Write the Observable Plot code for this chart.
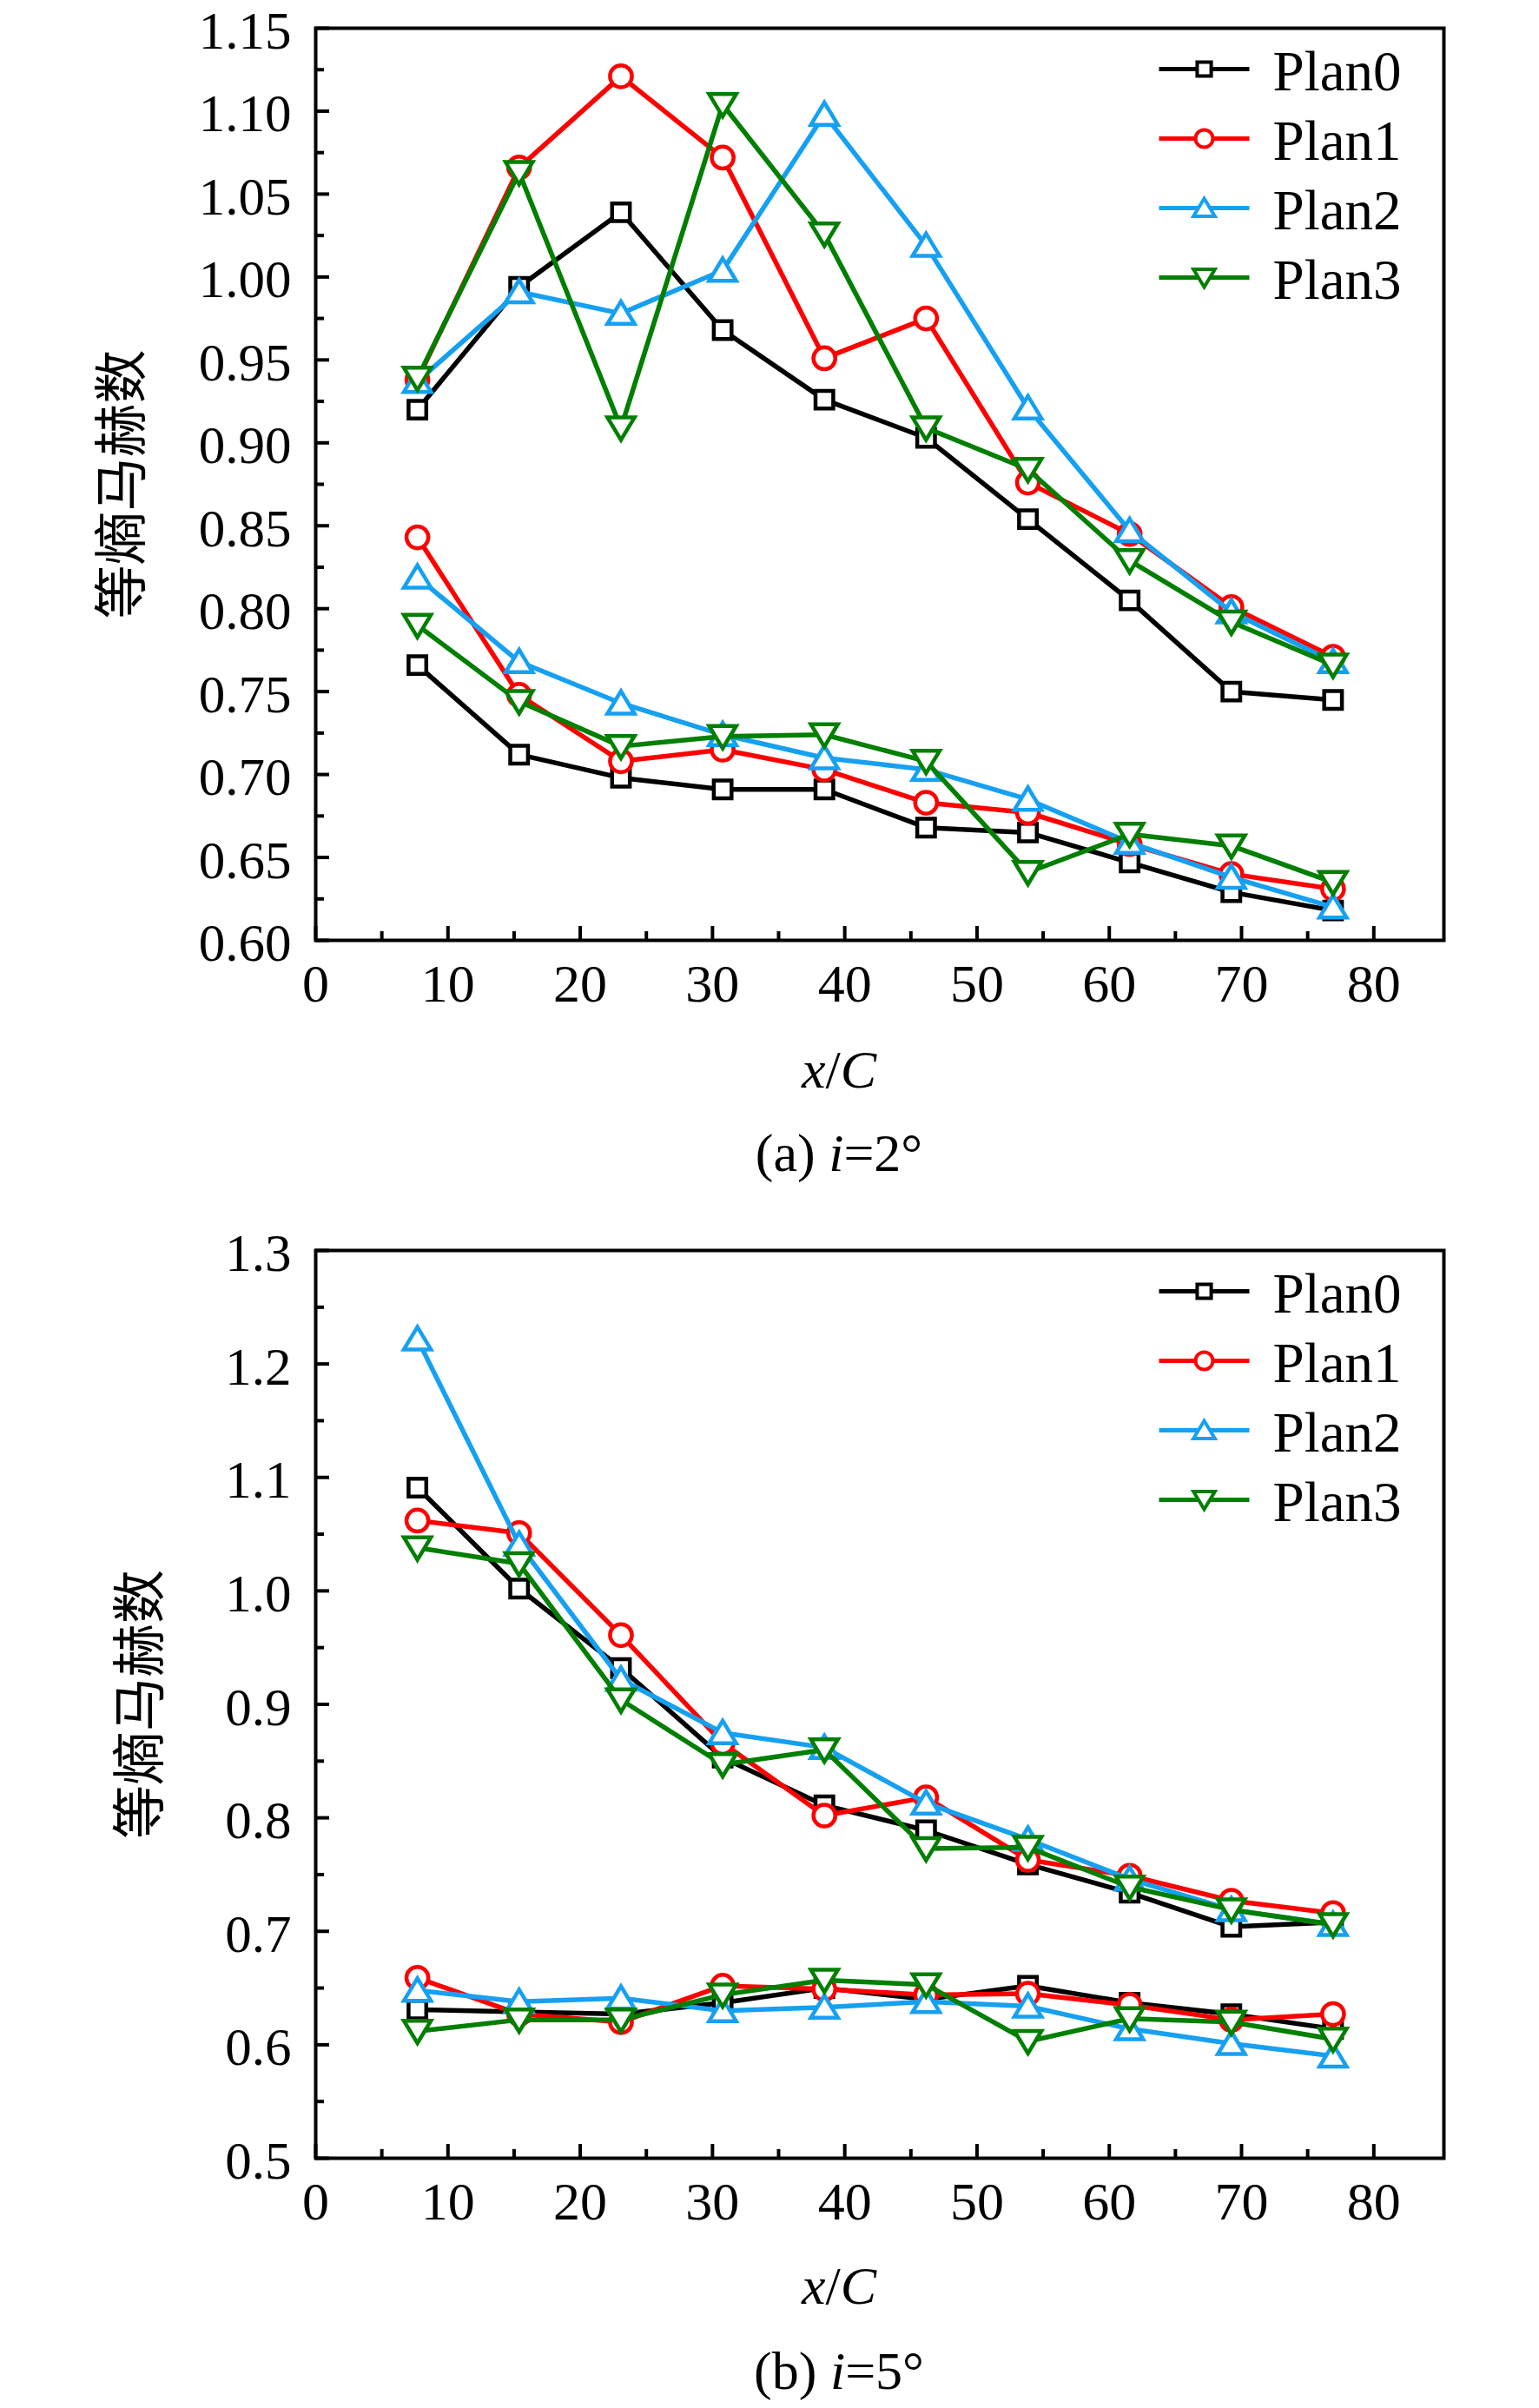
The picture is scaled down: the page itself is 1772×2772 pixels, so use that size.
<!DOCTYPE html>
<html>
<head>
<meta charset="utf-8">
<script src="https://cdn.jsdelivr.net/npm/d3@7"></script>
<script src="https://cdn.jsdelivr.net/npm/@observablehq/plot@0.6"></script>
<style>
  html, body { margin: 0; padding: 0; background: #fff; color: #000; }
  #page { position: relative; width: 1772px; height: 2772px; overflow: hidden; background: #fff; }
  .panel { position: absolute; left: 0; }
  .lab { position: absolute; left: 666px; width: 600px; text-align: center;
         font-family: 'Liberation Serif', 'Times New Roman', serif; font-size: 62px;
         line-height: 62px; height: 62px; color: #000; white-space: nowrap; }
</style>
</head>
<body>
<div id="page"></div>
<script>
// ---------- data ----------
const xPos = [7.69, 15.38, 23.08, 30.77, 38.46, 46.15, 53.85, 61.54, 69.23, 76.92];
const plans = ["Plan0", "Plan1", "Plan2", "Plan3"];
const planColors = ["#000000", "#ff0000", "#16a0f2", "#007f00"];

// (a) i=2°  – upper branch
const a0Up = [0.920, 0.994, 1.039, 0.968, 0.926, 0.903, 0.854, 0.805, 0.750, 0.745];
const a1Up = [0.938, 1.066, 1.121, 1.072, 0.951, 0.975, 0.876, 0.845, 0.801, 0.771];
const a2Up = [0.937, 0.991, 0.978, 1.004, 1.098, 1.019, 0.921, 0.847, 0.798, 0.768];
const a3Up = [0.939, 1.063, 0.909, 1.104, 1.026, 0.909, 0.884, 0.829, 0.792, 0.766];
// (a) i=2°  – lower branch
const a0Lo = [0.766, 0.712, 0.698, 0.691, 0.691, 0.668, 0.665, 0.647, 0.629, 0.618];
const a1Lo = [0.843, 0.748, 0.708, 0.715, 0.703, 0.683, 0.677, 0.658, 0.640, 0.631];
const a2Lo = [0.819, 0.768, 0.743, 0.724, 0.710, 0.703, 0.685, 0.659, 0.638, 0.620];
const a3Lo = [0.790, 0.744, 0.717, 0.723, 0.724, 0.708, 0.641, 0.664, 0.657, 0.635];

// (b) i=5°  – upper branch
const b0Up = [1.091, 1.002, 0.932, 0.853, 0.811, 0.789, 0.759, 0.734, 0.704, 0.708];
const b1Up = [1.062, 1.051, 0.961, 0.866, 0.802, 0.818, 0.763, 0.749, 0.727, 0.716];
const b2Up = [1.222, 1.041, 0.922, 0.875, 0.862, 0.813, 0.781, 0.746, 0.719, 0.706];
const b3Up = [1.038, 1.024, 0.904, 0.847, 0.860, 0.773, 0.774, 0.739, 0.719, 0.706];
// (b) i=5°  – lower branch
const b0Lo = [0.631, 0.629, 0.627, 0.637, 0.650, 0.640, 0.652, 0.637, 0.627, 0.614];
const b1Lo = [0.659, 0.627, 0.620, 0.652, 0.649, 0.644, 0.645, 0.635, 0.622, 0.627];
const b2Lo = [0.648, 0.638, 0.641, 0.630, 0.633, 0.638, 0.634, 0.614, 0.601, 0.590];
const b3Lo = [0.612, 0.622, 0.622, 0.644, 0.657, 0.653, 0.603, 0.623, 0.620, 0.605];

// ticks
const xMajor = [0, 10, 20, 30, 40, 50, 60, 70, 80];
const xMinor = [5, 15, 25, 35, 45, 55, 65, 75];
const yMajorA = [0.60, 0.65, 0.70, 0.75, 0.80, 0.85, 0.90, 0.95, 1.00, 1.05, 1.10, 1.15];
const yMinorA = [0.625, 0.675, 0.725, 0.775, 0.825, 0.875, 0.925, 0.975, 1.025, 1.075, 1.125];
const yMajorB = [0.5, 0.6, 0.7, 0.8, 0.9, 1.0, 1.1, 1.2, 1.3];
const yMinorB = [0.55, 0.65, 0.75, 0.85, 0.95, 1.05, 1.15, 1.25];

const yTitle = "等熵马赫数";
const xTitleHTML = "<i>x</i>/<i>C</i>";
const captionA = "(a) <i>i</i>=2°";
const captionB = "(b) <i>i</i>=5°";

// ---------- symbols ----------
const symSquare = { draw(c, size) { const r = Math.sqrt(size / Math.PI) * 0.85;
  c.moveTo(-r, -r); c.lineTo(r, -r); c.lineTo(r, r); c.lineTo(-r, r); c.closePath(); } };
const symCircle = { draw(c, size) { const r = Math.sqrt(size / Math.PI) * 1.05;
  c.moveTo(r, 0); c.arc(0, 0, r, 0, 2 * Math.PI); c.closePath(); } };
const symUp = { draw(c, size) { const r = Math.sqrt(size / Math.PI);
  c.moveTo(0, -1.15 * r); c.lineTo(1.3 * r, 1.0 * r); c.lineTo(-1.3 * r, 1.0 * r); c.closePath(); } };
const symDown = { draw(c, size) { const r = Math.sqrt(size / Math.PI);
  c.moveTo(0, 1.15 * r); c.lineTo(1.3 * r, -1.0 * r); c.lineTo(-1.3 * r, -1.0 * r); c.closePath(); } };
const symHLine = { draw(c, size) { c.moveTo(-52, 0); c.lineTo(52, 0); } };
const planSymbols = [symSquare, symCircle, symUp, symDown];

// ---------- layout ----------
const W = 1772, H = 1180, ML = 363, MR = 110;
const FONT = "'Liberation Serif', 'Times New Roman', serif";

function panel({ups, los, yDomain, yMajor, yMinor, yFmt, mt, mb, yTitleDx}) {
  const frameH = H - mt - mb;
  const frameW = W - ML - MR;
  const marks = [];
  // ticks (inward)
  marks.push(Plot.ruleX(xMajor, {x: d => d, insetTop: frameH - 16, stroke: "#000", strokeWidth: 4}));
  marks.push(Plot.ruleX(xMinor, {x: d => d, insetTop: frameH - 10, stroke: "#000", strokeWidth: 4}));
  marks.push(Plot.ruleY(yMajor, {y: d => d, insetRight: frameW - 16, stroke: "#000", strokeWidth: 4}));
  marks.push(Plot.ruleY(yMinor, {y: d => d, insetRight: frameW - 10, stroke: "#000", strokeWidth: 4}));
  // series
  plans.forEach((p, i) => {
    const rows = [ups[i], los[i]].map(arr => xPos.map((x, j) => ({x, y: arr[j]})));
    rows.forEach(data => marks.push(Plot.line(data, {x: "x", y: "y", stroke: planColors[i], strokeWidth: 5.5})));
    rows.forEach(data => marks.push(Plot.dot(data, {x: "x", y: "y", symbol: planSymbols[i], r: 12,
      fill: "white", stroke: planColors[i], strokeWidth: 4.5})));
  });
  // legend
  plans.forEach((p, i) => {
    const dy = 47 + 80 * i;
    marks.push(Plot.dot([p], {frameAnchor: "top-right", dx: -276, dy, symbol: symHLine, r: 10,
      fill: "none", stroke: planColors[i], strokeWidth: 5}));
    marks.push(Plot.dot([p], {frameAnchor: "top-right", dx: -276, dy, symbol: planSymbols[i], r: 9.5,
      fill: "white", stroke: planColors[i], strokeWidth: 4}));
    marks.push(Plot.text([p], {frameAnchor: "top-right", dx: -197, dy: dy + 4, text: d => d,
      textAnchor: "start", lineAnchor: "middle", fontSize: 65, fontFamily: FONT, fill: "#000"}));
  });
  // y title
  marks.push(Plot.text([yTitle], {frameAnchor: "left", dx: yTitleDx, rotate: -90, text: d => d,
    lineAnchor: "middle", fontSize: 62, fontFamily: "'Noto Sans CJK SC', sans-serif", fill: "#000", textAnchor: "middle"}));
  // axes labels
  marks.push(Plot.axisX({ticks: xMajor, tickSize: 0, tickPadding: 26, label: null,
    fontSize: 62, fontFamily: FONT, tickFormat: d3.format("d")}));
  marks.push(Plot.axisY({ticks: yMajor, tickSize: 0, tickPadding: 28, label: null, dy: 4,
    fontSize: 61, fontFamily: FONT, tickFormat: d3.format(yFmt)}));
  marks.push(Plot.frame({stroke: "#000", strokeWidth: 4}));
  return Plot.plot({
    width: W, height: H,
    marginTop: mt, marginBottom: mb, marginLeft: ML, marginRight: MR,
    x: {domain: [0, 85.3]},
    y: {domain: yDomain},
    style: {fontFamily: FONT, fontSize: "62px", background: "white", color: "#000", overflow: "visible"},
    marks
  });
}

const page = document.getElementById("page");
function place(el, top) { el.classList.add("panel"); el.style.top = top + "px"; page.appendChild(el); }
function label(html, top) { const d = document.createElement("div"); d.className = "lab"; d.style.top = top + "px"; d.innerHTML = html; page.appendChild(d); }

place(panel({ups: [a0Up, a1Up, a2Up, a3Up], los: [a0Lo, a1Lo, a2Lo, a3Lo], yDomain: [0.60, 1.15],
  yMajor: yMajorA, yMinor: yMinorA, yFmt: ".2f", mt: 32, mb: 98, yTitleDx: -221}), 0);
place(panel({ups: [b0Up, b1Up, b2Up, b3Up], los: [b0Lo, b1Lo, b2Lo, b3Lo], yDomain: [0.5, 1.3],
  yMajor: yMajorB, yMinor: yMinorB, yFmt: ".1f", mt: 49, mb: 86, yTitleDx: -200}), 1390);

label(xTitleHTML, 1200);
label(captionA, 1296);
label(xTitleHTML, 2600);
label(captionB, 2698);
</script>
</body>
</html>
